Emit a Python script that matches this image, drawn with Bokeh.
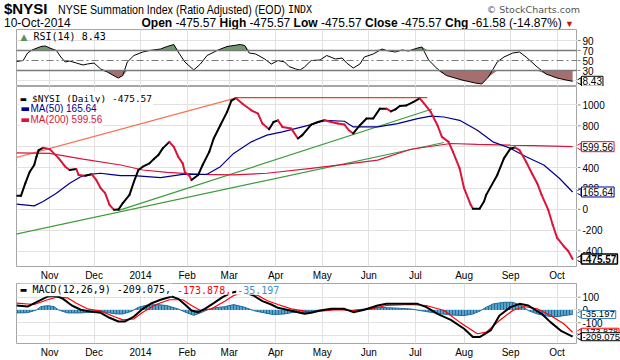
import numpy as np
from bokeh.plotting import figure
from bokeh.models import Range1d, FixedTicker, Label, Div, Span
from bokeh.layouts import column, row
from bokeh.embed import file_html
from bokeh.resources import INLINE
from bokeh.core.properties import value

# ---------------- data (x = trading session number, 0 = 11-Oct-2013) ----------------
month_ticks = [15, 35, 56, 77, 96, 117, 138, 159, 180, 202, 223, 244]
month_labels = ["Nov", "Dec", "2014", "Feb", "Mar", "Apr", "May", "Jun", "Jul", "Aug", "Sep", "Oct"]

nysi_day = [0, 2, 4, 6, 8, 9, 10, 12, 15, 19, 22, 24, 27, 28, 31, 34, 36, 38, 40, 42,
            44, 46, 48, 51, 53, 55, 57, 60, 62, 64, 66, 69, 71, 73, 75, 76, 78, 79, 82, 84,
            87, 89, 92, 95, 97, 99, 102, 106, 109, 111, 114, 116, 118, 120, 124, 127, 129, 133, 136, 139,
            142, 145, 148, 150, 152, 155, 158, 161, 164, 167, 169, 171, 173, 176, 179, 182, 184, 187, 190, 192,
            195, 197, 200, 202, 205, 206, 209, 211, 212, 217, 220, 223, 225, 227, 230, 233, 235, 237, 240, 242,
            244, 247, 249, 251]
nysi_val = [129, 129, 250, 360, 424, 503, 567, 589, 576, 490, 408, 376, 386, 329, 322, 335, 281, 202, 154, 43,
            -5, -3, 60, 138, 265, 376, 408, 440, 481, 519, 583, 646, 598, 503, 440, 354, 322, 281, 329, 424,
            550, 678, 805, 931, 1040, 1065, 1011, 948, 916, 821, 767, 836, 852, 789, 773, 678, 710, 811, 836, 852,
            836, 821, 811, 757, 726, 805, 869, 869, 964, 964, 938, 957, 989, 995, 1027, 1062, 1011, 931, 805, 693,
            646, 550, 392, 202, 43, 5, 5, 74, 138, 329, 488, 583, 592, 567, 455, 329, 250, 138, -5, -148,
            -274, -354, -400, -475.57]

ma50_day = [0, 8, 12, 18, 24, 29, 33, 38, 42, 47, 53, 65, 75, 86, 92, 98, 106, 113, 120, 133,
            139, 148, 152, 163, 172, 181, 187, 193, 200, 208, 215, 223, 230, 238, 245, 251]
ma50_val = [50, 33, 74, 154, 250, 312, 335, 345, 335, 322, 322, 303, 335, 335, 408, 535, 646, 710, 741, 811,
            852, 843, 789, 789, 821, 869, 893, 884, 852, 757, 646, 583, 503, 424, 297, 165.64]

ma200_day = [0, 15, 30, 47, 57, 68, 83, 98, 113, 133, 148, 163, 178, 196, 208, 223, 238, 251]
ma200_val = [541, 535, 481, 424, 376, 354, 335, 329, 345, 392, 430, 471, 575, 630, 622, 614, 608, 599.56]

# drawn trend lines (end points)
orange_day = [-7.2, 98.8]
orange_val = [455, 1065]
top_day = [98.8, 185.4]
top_val = [1069, 1069]
greenA_day = [-7.2, 192.9]
greenA_val = [-269, 640]
greenB_day = [46.2, 187.6]
greenB_val = [-11, 960]
main_ticks = [-400, -200, 0, 200, 400, 600, 800, 1000]

rsi_day = [0, 3, 5, 7, 11, 13, 15, 18, 20, 22, 24, 27, 30, 32, 35, 38, 41, 45, 46, 48,
           50, 53, 57, 60, 65, 68, 71, 73, 76, 80, 83, 86, 91, 95, 101, 103, 105, 108, 112, 115,
           118, 121, 123, 126, 128, 130, 133, 137, 140, 144, 147, 149, 152, 155, 157, 161, 165, 167, 171, 174,
           177, 181, 183, 186, 190, 194, 201, 207, 210, 213, 217, 220, 224, 227, 230, 235, 239, 244, 248, 251]
rsi_val = [48, 50, 65, 71, 78, 79, 75, 70, 57, 47, 49, 45, 41, 43, 45, 33, 27, 17, 15, 20,
           47, 60, 67, 70, 73, 78, 82, 67, 47, 31, 43, 60, 71, 78, 82, 80, 65, 63, 53, 43,
           50, 47, 38, 33, 31, 37, 50, 51, 60, 53, 55, 45, 35, 43, 57, 63, 73, 70, 67, 71,
           69, 75, 77, 51, 33, 20, 11, 5, 3, 17, 47, 57, 65, 67, 57, 37, 23, 15, 11, 8.43]
rsi_ticks = [30, 50, 70, 90]

macd_day = [0, 5, 9, 14, 18, 21, 25, 29, 33, 38, 42, 46, 49, 53, 57, 61, 65, 70, 73, 76,
            79, 82, 85, 89, 93, 97, 101, 107, 111, 115, 118, 122, 127, 130, 133, 137, 142, 148, 152, 157,
            163, 167, 173, 181, 185, 190, 196, 202, 206, 209, 214, 218, 223, 227, 231, 237, 241, 246, 251]
macd_val = [35, 27, 61, 105, 111, 87, 35, 2, -12, -22, -61, -90, -90, -51, 9, 53, 80, 105, 87, 43,
            -4, -17, 9, 53, 100, 135, 150, 113, 69, 43, 17, 2, -17, -30, -22, -4, 9, 9, -17, 2,
            35, 48, 48, 48, 22, -30, -77, -147, -212, -212, -160, -43, 22, 48, 35, -30, -95, -166, -209.075]

signal_day = [0, 8, 14, 18, 23, 27, 32, 38, 44, 48, 53, 57, 63, 69, 75, 79, 83, 88, 94, 98,
              103, 109, 113, 118, 124, 130, 133, 137, 145, 152, 160, 167, 178, 185, 193, 200, 208, 212, 218, 224,
              229, 235, 241, 247, 251]
signal_val = [53, 43, 80, 100, 95, 53, 9, -9, -51, -77, -69, -17, 43, 80, 80, 35, -4, 9, 69, 113,
              135, 113, 74, 43, 9, -9, -17, -9, 2, -4, 9, 35, 43, 35, -4, -95, -186, -173, -82, -4,
              27, 9, -43, -108, -173.878]

hist_day = [0, 5, 9, 11, 14, 17, 19, 23, 29, 33, 38, 42, 45, 48, 52, 55, 59, 64, 68, 73,
            77, 80, 83, 86, 89, 94, 98, 103, 107, 112, 116, 121, 125, 130, 133, 139, 145, 151, 157, 163,
            170, 178, 184, 190, 196, 202, 206, 209, 212, 215, 220, 224, 228, 231, 235, 240, 244, 249, 251]
hist_val = [-23, -21, 0, 26, 34, 26, 0, -23, -23, -18, -10, -23, -31, -31, -10, 21, 39, 42, 34, 8,
            -23, -42, -23, 0, 16, 26, 42, 21, -5, -23, -36, -31, -18, -23, -10, 0, 8, -5, 8, 21,
            16, 8, -10, -26, -39, -44, -31, -10, 21, 47, 60, 60, 34, -5, -31, -49, -52, -39, -35.197]
macd_ticks = [-200, -100, 0, 100]

# ---------------- styling ----------------
MAIN_W = 577
SIDE_W = 43
AX_FONT = "Liberation Sans"
MONO = "DejaVu Sans Mono"
GRID = "#e2e2e2"
FRAME = "#a6a6a6"
CRIMSON = "#dc143c"
NAVY = "#00008b"

xr = Range1d(0, 253.2)


def panel(height, yr, bottom, with_xaxis, yticks, gridticks):
    p = figure(width=MAIN_W, height=height, x_range=xr, y_range=yr,
               output_backend="svg", toolbar_location=None,
               x_axis_location="below" if with_xaxis else None,
               y_axis_location=None,
               min_border_left=16, min_border_right=0, min_border_top=0,
               min_border_bottom=bottom)
    p.outline_line_color = FRAME
    p.border_fill_color = "white"
    p.background_fill_color = "white"
    p.xgrid.ticker = FixedTicker(ticks=month_ticks)
    p.ygrid.ticker = FixedTicker(ticks=gridticks)
    p.xgrid.grid_line_color = GRID
    p.ygrid.grid_line_color = GRID
    if with_xaxis:
        xa = p.xaxis[0]
        xa.ticker = FixedTicker(ticks=month_ticks)
        xa.major_label_overrides = {t: lab for t, lab in zip(month_ticks, month_labels)}
        xa.axis_line_color = None
        xa.major_tick_out = 0
        xa.major_tick_in = 0
        xa.minor_tick_out = 0
        xa.minor_tick_in = 0
        xa.major_label_standoff = 3
        xa.major_label_text_font = AX_FONT
        xa.major_label_text_font_size = "10px"
        xa.major_label_text_color = "black"
    # value scale drawn in a narrow companion plot sharing the y range
    s = figure(width=SIDE_W, height=height, x_range=Range1d(0, SIDE_W), y_range=yr,
               output_backend="svg", toolbar_location=None,
               x_axis_location=None, y_axis_location=None,
               min_border_left=0, min_border_right=0, min_border_top=0,
               min_border_bottom=bottom)
    s.outline_line_color = None
    s.grid.visible = False
    s.border_fill_color = "white"
    s.background_fill_color = "white"
    s.segment(x0=0, y0=yticks, x1=3, y1=yticks, line_color="#888888", line_width=1)
    s.text(x=5, y=yticks, text=[str(t) for t in yticks], text_font=value(AX_FONT),
           text_font_size="10px", text_baseline="middle", text_align="left", text_color="black")
    return p, s


def tag(s, yval, text, color, bold=False, lw=1, size="10px"):
    s.scatter(x=[1.5], y=[yval], marker="triangle", angle=np.pi / 2, size=7,
              fill_color="white", line_color=color, line_width=1)
    s.add_layout(Label(x=4, y=yval, x_units="data", y_units="data", text=text,
                       text_font=AX_FONT, text_font_size=size,
                       text_font_style="bold" if bold else "normal",
                       text_baseline="middle", text_align="left", text_color="black",
                       background_fill_color="white", border_line_color=color,
                       border_line_width=lw, padding=1))


def legend_text(p, x, y, text, color, font=MONO, size="10px", bg=True):
    p.add_layout(Label(x=x, y=y, x_units="screen", y_units="screen", text=text,
                       text_font=font, text_font_size=size, text_color=color,
                       text_baseline="middle", text_align="left",
                       background_fill_color="white" if bg else None, padding=1))


# ---------------- title (HTML) ----------------
ohlc = ('<b>Open</b> -475.57 <b>High</b> -475.57 <b>Low</b> -475.57 '
        '<b>Close</b> -475.57 <b>Chg</b> -61.58 (-14.87%) '
        '<span style="color:#d01010;font-size:9px;">&#9660;</span>')
title_html = (
    '<div style="position:relative;width:620px;height:29px;white-space:nowrap;color:#000;'
    'font-family:\'Liberation Sans\',Arial,sans-serif;">'
    '<span style="position:absolute;left:4px;top:1px;font-size:15px;line-height:15px;font-weight:bold;">$NYSI</span>'
    '<span style="position:absolute;left:58px;top:3px;font-size:13px;line-height:13px;'
    'transform:scaleX(0.82);transform-origin:left top;">'
    'NYSE Summation Index (Ratio Adjusted) (EOD)</span>'
    '<span style="position:absolute;left:288px;top:5px;font-size:10px;line-height:10px;'
    'font-family:\'DejaVu Sans Mono\',monospace;">INDX</span>'
    '<span style="position:absolute;right:40px;top:5px;font-size:9.5px;line-height:10px;'
    'font-family:\'DejaVu Sans\',sans-serif;color:#555;">&#169; StockCharts.com</span>'
    '<span style="position:absolute;left:4px;top:17px;font-size:12px;line-height:12px;">10-Oct-2014</span>'
    '<span style="position:absolute;right:46px;top:17px;font-size:12px;line-height:12px;">' + ohlc + '</span>'
    '</div>')
head = Div(text=title_html, width=MAIN_W + SIDE_W, height=29, margin=0)

# ---------------- RSI panel ----------------
p1, s1 = panel(57, Range1d(-2, 112), 0, False, rsi_ticks, [10, 90])
rsi = np.array(rsi_val)
p1.varea(x=rsi_day, y1=70, y2=np.maximum(rsi, 70), fill_color="#6f9c6f")
p1.varea(x=rsi_day, y1=np.minimum(rsi, 30), y2=30, fill_color="#a66f6f")
p1.add_layout(Span(location=70, dimension="width", line_color="#7a7a7a", line_width=1.3))
p1.add_layout(Span(location=30, dimension="width", line_color="#7a7a7a", line_width=1.3))
p1.add_layout(Span(location=50, dimension="width", line_color="#7a7a7a", line_width=1,
                   line_dash="7 3 2 3"))
p1.line(rsi_day, rsi_val, line_color="black", line_width=1)
legend_text(p1, 3, 50, "\u25b2", "#5e8f5e", font="DejaVu Sans", size="9px", bg=False)
legend_text(p1, 16, 50, "RSI(14) 8.43", "black", bg=False)
tag(s1, rsi_val[-1], "8.43", "black")

# ---------------- main panel ----------------
p2, s2 = panel(197, Range1d(-548, 1176), 16, True, main_ticks, main_ticks)
p2.line(greenA_day, greenA_val, line_color="#3b9c3b", line_width=1.2)
p2.line(greenB_day, greenB_val, line_color="#3b9c3b", line_width=1.2)
p2.line(orange_day, orange_val, line_color="#f77252", line_width=1.2)
p2.line(top_day, top_val, line_color="#ff3c00", line_width=1.2)
p2.line(ma200_day, ma200_val, line_color=CRIMSON, line_width=1.2)
p2.line(ma50_day, ma50_val, line_color=NAVY, line_width=1.2)
nd = np.array(nysi_day, dtype=float)
nv = np.array(nysi_val, dtype=float)
seg_col = np.where(np.diff(nv) >= 0, "black", CRIMSON)
p2.segment(x0=nd[:-1], y0=nv[:-1], x1=nd[1:], y1=nv[1:], line_color=seg_col,
           line_width=2, line_cap="round")
legend_text(p2, 3, 168, "\u25ac $NYSI (Daily) -475.57", "black", size="9.5px")
legend_text(p2, 3, 157.7, "\u25ac", NAVY, font="DejaVu Sans", size="10px")
legend_text(p2, 13, 157.7, "MA(50) 165.64", NAVY, font=AX_FONT, size="10px")
legend_text(p2, 3, 147, "\u25ac", CRIMSON, font="DejaVu Sans", size="10px")
legend_text(p2, 13, 147, "MA(200) 599.56", CRIMSON, font=AX_FONT, size="10px")
tag(s2, ma200_val[-1], "599.56", CRIMSON)
tag(s2, ma50_val[-1], "165.64", NAVY)
tag(s2, nysi_val[-1], "-475.57", "black", bold=True, lw=1.5)

# ---------------- MACD panel ----------------
p3, s3 = panel(77, Range1d(-262, 207), 17, True, macd_ticks, macd_ticks)
p3.varea(x=hist_day, y1=0, y2=hist_val, fill_color="#5aa3cf",
         hatch_pattern="vertical_line", hatch_color="#216d9c", hatch_scale=3, hatch_weight=1)
p3.line(hist_day, hist_val, line_color="#216d9c", line_width=1)
p3.line(signal_day, signal_val, line_color="#ff0000", line_width=1.2)
p3.line(macd_day, macd_val, line_color="black", line_width=2)
legend_text(p3, 3, 53.7, "\u25ac MACD(12,26,9) -209.075,", "black")
legend_text(p3, 159.5, 53.7, "-173.878,", "#ff0000")
legend_text(p3, 219.7, 53.7, "-35.197", "#3a8fc8")
tag(s3, hist_val[-1], "-35.197", "#3c7fb8", size="9.5px")
tag(s3, signal_val[-1], "-173.878", "#ff0000", size="9px")
tag(s3, macd_val[-1], "-209.075", "black", size="9.5px")

layout = column(head, row(p1, s1, spacing=0), row(p2, s2, spacing=0),
                row(p3, s3, spacing=0), spacing=0)
open("out.html", "w").write(file_html(layout, INLINE))
